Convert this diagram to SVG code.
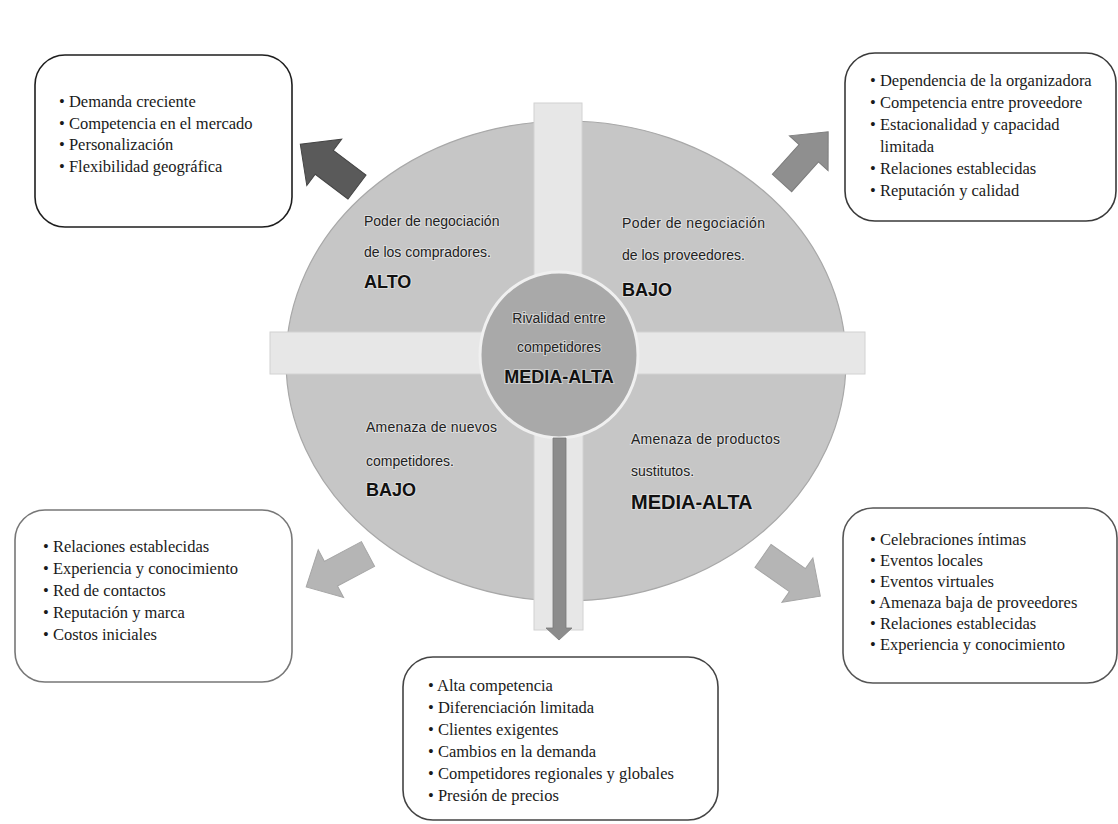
<svg xmlns="http://www.w3.org/2000/svg" width="1118" height="824" viewBox="0 0 1118 824">
<style>
.box{fill:#ffffff;stroke-width:1.6}
.li{font-family:"Liberation Serif","Times New Roman",serif;font-size:16.5px;fill:#1a1a1a}
.q{font-family:"Liberation Sans",Arial,sans-serif;font-size:14px;fill:#222;stroke:#f2f2f2;stroke-width:2px;stroke-opacity:0.55;paint-order:stroke}
.qb{font-family:"Liberation Sans",Arial,sans-serif;font-weight:bold;fill:#111;stroke:#f2f2f2;stroke-width:2px;stroke-opacity:0.55;paint-order:stroke}
.bar{fill:#e7e7e7;stroke:#d2d2d2;stroke-width:1}
</style>
<rect width="1118" height="824" fill="#ffffff"/>

<g id="ellipse-base">
  <ellipse cx="566" cy="361" rx="280" ry="240" fill="#c6c6c6" stroke="#a8a8a8" stroke-width="1.2"/>
  <rect class="bar" x="534" y="103" width="48" height="230"/>
  <rect class="bar" x="270" y="332" width="595" height="42"/>
  <rect class="bar" x="534" y="374" width="49" height="256"/>
</g>

<g id="center">
  <ellipse cx="559" cy="355" rx="79" ry="83" fill="#a9a9a9" stroke="#f0f0f0" stroke-width="3"/>
  <text class="q" x="559" y="323" text-anchor="middle" font-size="15">Rivalidad entre</text>
  <text class="q" x="559" y="352" text-anchor="middle" font-size="15">competidores</text>
  <text class="qb" x="559" y="383" text-anchor="middle" font-size="18">MEDIA-ALTA</text>
</g>

<g id="q-compradores">
  <text class="q" x="364" y="226">Poder de negociación</text>
  <text class="q" x="364" y="257">de los compradores.</text>
  <text class="qb" x="364" y="288" font-size="18">ALTO</text>
</g>
<g id="q-proveedores">
  <text class="q" x="622" y="228" textLength="143" lengthAdjust="spacing">Poder de negociación</text>
  <text class="q" x="622" y="260">de los proveedores.</text>
  <text class="qb" x="622" y="296" font-size="18">BAJO</text>
</g>
<g id="q-nuevos">
  <text class="q" x="366" y="432" textLength="131" lengthAdjust="spacing">Amenaza de nuevos</text>
  <text class="q" x="366" y="466">competidores.</text>
  <text class="qb" x="366" y="496" font-size="18">BAJO</text>
</g>
<g id="q-sustitutos">
  <text class="q" x="631" y="444" textLength="149" lengthAdjust="spacing">Amenaza de productos</text>
  <text class="q" x="631" y="476">sustitutos.</text>
  <text class="qb" x="631" y="509" font-size="20">MEDIA-ALTA</text>
</g>

<g id="connectors">
  <polygon points="0,-15 41,-15 41,-29 71,0 41,29 41,15 0,15" transform="translate(357,187) rotate(217)" fill="#5a5a5a" stroke="#454545" stroke-width="1"/>
  <polygon points="0,-13 40,-13 40,-26 69,0 40,26 40,13 0,13" transform="translate(782,183) rotate(-48)" fill="#8f8f8f" stroke="#7d7d7d" stroke-width="1"/>
  <polygon points="0,-14 42,-14 42,-27 70,0 42,27 42,14 0,14" transform="translate(368,554) rotate(152)" fill="#b5b5b5" stroke="#a5a5a5" stroke-width="1"/>
  <polygon points="0,-14 42,-14 42,-27 70,0 42,27 42,14 0,14" transform="translate(763,556) rotate(35)" fill="#b5b5b5" stroke="#a5a5a5" stroke-width="1"/>
  <polygon points="553,438 566,438 566,628 572,628 559,640 546,628 553,628" fill="#8c8c8c" stroke="#7a7a7a" stroke-width="0.8"/>
</g>

<g id="box-compradores">
  <rect class="box" x="35" y="55" width="257" height="172" rx="30" stroke="#1e1e1e" stroke-width="2"/>
  <text class="li" x="59" y="107">• Demanda creciente</text>
  <text class="li" x="59" y="129">• Competencia en el mercado</text>
  <text class="li" x="59" y="150">• Personalización</text>
  <text class="li" x="59" y="172">• Flexibilidad geográfica</text>
</g>

<g id="box-proveedores">
  <rect class="box" x="845" y="53" width="271" height="168" rx="30" stroke="#3a3a3a"/>
  <text class="li" x="870" y="86">• Dependencia de la organizadora</text>
  <text class="li" x="870" y="108">• Competencia entre proveedore</text>
  <text class="li" x="870" y="130">• Estacionalidad y capacidad</text>
  <text class="li" x="880" y="152">limitada</text>
  <text class="li" x="870" y="174">• Relaciones establecidas</text>
  <text class="li" x="870" y="196">• Reputación y calidad</text>
</g>

<g id="box-nuevos">
  <rect class="box" x="15" y="510" width="277" height="172" rx="30" stroke="#777777"/>
  <text class="li" x="43" y="552">• Relaciones establecidas</text>
  <text class="li" x="43" y="574">• Experiencia y conocimiento</text>
  <text class="li" x="43" y="596">• Red de contactos</text>
  <text class="li" x="43" y="618">• Reputación y marca</text>
  <text class="li" x="43" y="640">• Costos iniciales</text>
</g>

<g id="box-sustitutos">
  <rect class="box" x="843" y="508" width="274" height="175" rx="30" stroke="#555555"/>
  <text class="li" x="870" y="545">• Celebraciones íntimas</text>
  <text class="li" x="870" y="566">• Eventos locales</text>
  <text class="li" x="870" y="587">• Eventos virtuales</text>
  <text class="li" x="870" y="608">• Amenaza baja de proveedores</text>
  <text class="li" x="870" y="629">• Relaciones establecidas</text>
  <text class="li" x="870" y="650">• Experiencia y conocimiento</text>
</g>

<g id="box-rivalidad">
  <rect class="box" x="403" y="657" width="315" height="163" rx="30" stroke="#444444"/>
  <text class="li" x="428" y="691">• Alta competencia</text>
  <text class="li" x="428" y="713">• Diferenciación limitada</text>
  <text class="li" x="428" y="735">• Clientes exigentes</text>
  <text class="li" x="428" y="757">• Cambios en la demanda</text>
  <text class="li" x="428" y="779">• Competidores regionales y globales</text>
  <text class="li" x="428" y="801">• Presión de precios</text>
</g>
</svg>
